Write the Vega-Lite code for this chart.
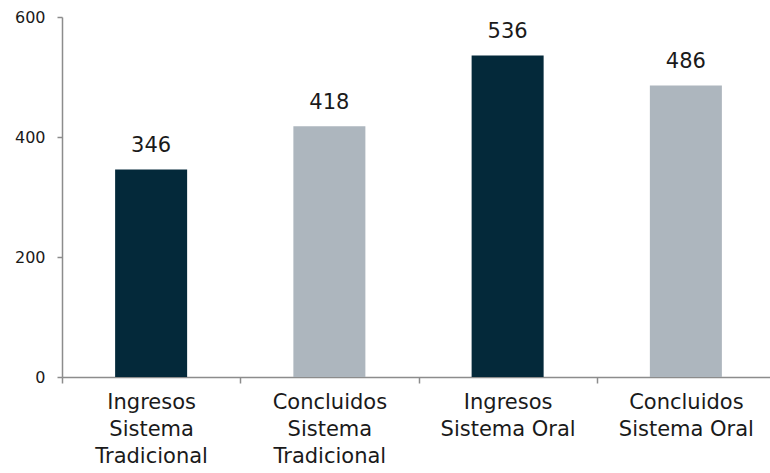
{
  "$schema": "https://vega.github.io/schema/vega-lite/v6.json",
  "autosize": "none",
  "padding": {"left": 62, "top": 17, "right": 0, "bottom": 96},
  "width": 713,
  "height": 360,
  "background": "white",
  "config": {"view": {"stroke": null}, "font": "DejaVu Sans"},
  "data": {"values": [
    {"cat": "Ingresos|Sistema|Tradicional", "value": 346, "tipo": "Ingresos"},
    {"cat": "Concluidos|Sistema|Tradicional", "value": 418, "tipo": "Concluidos"},
    {"cat": "Ingresos|Sistema Oral", "value": 536, "tipo": "Ingresos"},
    {"cat": "Concluidos|Sistema Oral", "value": 486, "tipo": "Concluidos"}
  ]},
  "encoding": {
    "x": {"field": "cat", "type": "nominal", "sort": null,
      "scale": {"paddingInner": 0.596, "paddingOuter": 0.298},
      "axis": {"title": null, "labelAngle": 0, "tickOffset": -89, "labelOffset": 89,
        "labelExpr": "split(datum.label, '|')",
        "labelFontSize": 21, "labelColor": "#1a1a1a", "labelLineHeight": 27,
        "labelPadding": 8, "domainColor": "#8c8c8c", "domainWidth": 1.5,
        "tickColor": "#8c8c8c", "tickSize": 6, "tickWidth": 1.5, "labelBound": false, "labelOverlap": false}},
    "y": {"field": "value", "type": "quantitative",
      "scale": {"domain": [0, 600]},
      "axis": {"title": null, "values": [0, 200, 400, 600], "grid": false,
        "labelFontSize": 16, "labelColor": "#1a1a1a", "labelPadding": 12,
        "domainColor": "#8c8c8c", "domainWidth": 1.5, "tickColor": "#8c8c8c",
        "tickSize": 5, "tickWidth": 1.5}}
  },
  "layer": [
    {"mark": {"type": "bar"},
     "encoding": {"color": {"field": "tipo", "type": "nominal", "legend": null,
       "scale": {"domain": ["Ingresos", "Concluidos"], "range": ["#04293a", "#adb6be"]}}}},
    {"mark": {"type": "text", "fontSize": 21, "baseline": "alphabetic", "dy": -17, "color": "#1a1a1a"},
     "encoding": {"text": {"field": "value", "type": "quantitative"}}}
  ]
}
